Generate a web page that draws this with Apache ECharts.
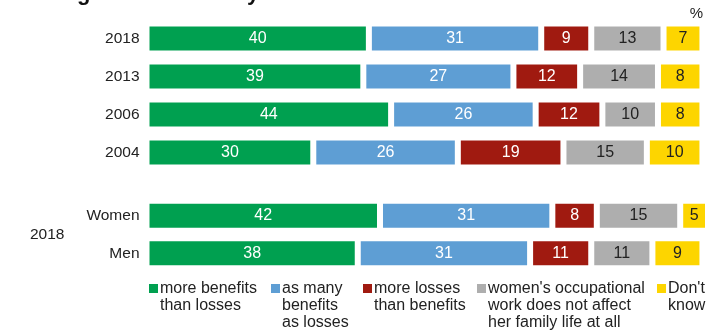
<!DOCTYPE html>
<html>
<head>
<meta charset="utf-8">
<script src="https://cdn.jsdelivr.net/npm/echarts@6/dist/echarts.min.js"></script>
<style>
  html, body { margin: 0; padding: 0; background: #fff; }
  #chart { width: 708px; height: 330px; }
</style>
</head>
<body>
<div id="chart"></div>
<script>
// Survey rows
const years = ['2018', '2013', '2006', '2004'];
const sexes = ['Women', 'Men'];

// Answer categories (legend order = stacking order)
const answers = [
  'more benefits\nthan losses',
  'as many\nbenefits\nas losses',
  'more losses\nthan benefits',
  "women's occupational\nwork does not affect\nher family life at all",
  "Don't\nknow"
];

// Shares in % by year
const moreBenefitsByYear = [40, 39, 44, 30];
const asManyByYear       = [31, 27, 26, 26];
const moreLossesByYear   = [9, 12, 12, 19];
const noEffectByYear     = [13, 14, 10, 15];
const dontKnowByYear     = [7, 8, 8, 10];

// Shares in % by sex, 2018
const moreBenefitsBySex = [42, 38];
const asManyBySex       = [31, 31];
const moreLossesBySex   = [8, 11];
const noEffectBySex     = [15, 11];
const dontKnowBySex     = [5, 9];

const colors = ['#00a050', '#5e9ed4', '#a01a10', '#aeaeae', '#fdd500'];
const labelColors = ['#ffffff', '#ffffff', '#ffffff', '#222222', '#222222'];

const byYear = [moreBenefitsByYear, asManyByYear, moreLossesByYear, noEffectByYear, dontKnowByYear];
const bySex = [moreBenefitsBySex, asManyBySex, moreLossesBySex, noEffectBySex, dontKnowBySex];

const FONT = 'Liberation Sans, Arial, sans-serif';

function makeSeries(values, gridIdx, stack) {
  return values.map((data, i) => ({
    type: 'bar',
    name: answers[i],
    stack: stack,
    xAxisIndex: gridIdx,
    yAxisIndex: gridIdx,
    barWidth: 30,
    data: data,
    itemStyle: { color: colors[i], borderColor: '#ffffff', borderWidth: 3 },
    label: {
      show: true,
      position: 'inside',
      color: labelColors[i],
      fontFamily: FONT,
      fontSize: 16
    },
    emphasis: { disabled: true }
  }));
}

// Legend drawn as graphic items: colored square + wrapped text
const legendX = [149, 271, 363, 477, 657];
const legendItems = [];
answers.forEach((name, i) => {
  legendItems.push({
    type: 'rect',
    shape: { x: legendX[i], y: 284, width: 9, height: 9 },
    style: { fill: colors[i] }
  });
  legendItems.push({
    type: 'text',
    x: legendX[i] + 11,
    y: 280,
    style: {
      text: name,
      fill: '#222222',
      font: '16px ' + FONT,
      lineHeight: 17,
      verticalAlign: 'top'
    }
  });
});

const chart = echarts.init(document.getElementById('chart'), null, { renderer: 'canvas' });
chart.setOption({
  animation: false,
  grid: [
    { left: 146.5, right: 0, top: 19.6, height: 152 },
    { left: 146.5, right: 0, top: 196.9, height: 75.2 }
  ],
  xAxis: [
    { type: 'value', gridIndex: 0, min: 0, max: 101, show: false },
    { type: 'value', gridIndex: 1, min: 0, max: 101, show: false }
  ],
  yAxis: [0, 1].map(g => ({
    type: 'category',
    gridIndex: g,
    inverse: true,
    data: g === 0 ? years : sexes,
    axisLine: { show: false },
    axisTick: { show: false },
    splitLine: { show: false },
    axisLabel: { color: '#222222', fontFamily: FONT, fontSize: 15.5, margin: 7 }
  })),
  series: makeSeries(byYear, 0, 'year').concat(makeSeries(bySex, 1, 'sex')),
  graphic: [
    {
      type: 'text', x: 22, y: 5, style: {
        text: "Changes for the family life", fill: '#111111',
        font: 'bold 22px ' + FONT, verticalAlign: 'bottom'
      }
    },
    {
      type: 'text', x: 703, y: 14, style: {
        text: '%', fill: '#222222', font: '15px ' + FONT,
        align: 'right', verticalAlign: 'middle'
      }
    },
    {
      type: 'text', x: 30, y: 235, style: {
        text: '2018', fill: '#222222', font: '15.5px ' + FONT,
        verticalAlign: 'middle'
      }
    }
  ].concat(legendItems)
});
</script>
</body>
</html>
